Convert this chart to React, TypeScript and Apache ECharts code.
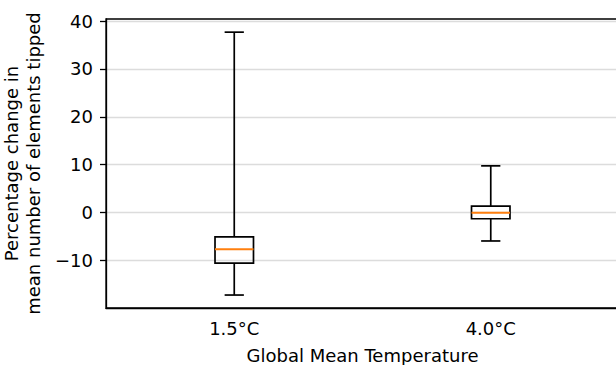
import React, { useEffect, useRef } from "react";
import * as echarts from "echarts";

const categories = ["1.5°C", "4.0°C"];
const lowWhisker = [-17.25, -5.95];
const q1 = [-10.6, -1.3];
const median = [-7.7, -0.05];
const q3 = [-5.1, 1.35];
const highWhisker = [37.7, 9.75];
const yTicks = [-10, 0, 10, 20, 30, 40];

const FONT = "DejaVu Sans";
const FS = 18;

export default function App() {
  const ref = useRef<HTMLDivElement>(null);
  useEffect(() => {
    document.body.style.margin = "0";
    const chart = echarts.init(ref.current!, null, { renderer: "svg" });
    const data = categories.map((_, i) => [
      i,
      lowWhisker[i],
      q1[i],
      median[i],
      q3[i],
      highWhisker[i],
    ]);
    chart.setOption({
      animation: false,
      grid: {
        left: 106,
        top: 19,
        width: 513,
        bottom: 57,
        show: true,
        borderColor: "#000",
        borderWidth: 1.3,
        outerBoundsMode: "none",
        containLabel: false,
      },
      xAxis: {
        type: "category",
        data: categories,
        boundaryGap: true,
        name: "Global Mean Temperature",
        nameLocation: "middle",
        nameGap: 38,
        nameTextStyle: { fontFamily: FONT, fontSize: FS, color: "#000" },
        axisLine: { onZero: false, lineStyle: { color: "#000", width: 1.3 } },
        axisTick: {
          alignWithLabel: true,
          length: 6,
          lineStyle: { color: "#000", width: 1.3 },
        },
        axisLabel: { fontFamily: FONT, fontSize: FS, color: "#000", margin: 11 },
        splitLine: { show: false },
      },
      yAxis: {
        type: "value",
        min: -19.96,
        max: 40.45,
        name: "Percentage change in\nmean number of elements tipped",
        nameLocation: "middle",
        nameRotate: 90,
        nameGap: 50,
        nameTextStyle: {
          fontFamily: FONT,
          fontSize: FS,
          color: "#000",
          lineHeight: 22,
        },
        axisLine: { show: true, lineStyle: { color: "#000", width: 1.3 } },
        axisTick: {
          show: true,
          length: 6,
          customValues: yTicks,
          lineStyle: { color: "#000", width: 1.3 },
        },
        axisLabel: {
          fontFamily: FONT,
          fontSize: FS,
          color: "#000",
          margin: 13,
          customValues: yTicks,
          formatter: (v: number) => String(v).replace("-", "\u2212"),
        },
        splitLine: { show: true, lineStyle: { color: "#dcdcdc", width: 1.4 } },
      },
      series: [
        {
          type: "custom",
          data,
          encode: { x: 0, y: [1, 2, 3, 4, 5] },
          renderItem: (params: any, api: any) => {
            const idx = api.value(0);
            const pLow = api.coord([idx, api.value(1)]);
            const pQ1 = api.coord([idx, api.value(2)]);
            const pMed = api.coord([idx, api.value(3)]);
            const pQ3 = api.coord([idx, api.value(4)]);
            const pHigh = api.coord([idx, api.value(5)]);
            const band = api.size([1, 0])[0];
            const bw = band * 0.15;
            const cw = band * 0.075;
            const x = pMed[0];
            const ls = { stroke: "#000", lineWidth: 1.7, fill: "none" };
            return {
              type: "group",
              children: [
                { type: "line", shape: { x1: x, y1: pQ1[1], x2: x, y2: pLow[1] }, style: ls },
                { type: "line", shape: { x1: x, y1: pQ3[1], x2: x, y2: pHigh[1] }, style: ls },
                { type: "line", shape: { x1: x - cw / 2, y1: pLow[1], x2: x + cw / 2, y2: pLow[1] }, style: ls },
                { type: "line", shape: { x1: x - cw / 2, y1: pHigh[1], x2: x + cw / 2, y2: pHigh[1] }, style: ls },
                {
                  type: "rect",
                  shape: { x: x - bw / 2, y: pQ3[1], width: bw, height: pQ1[1] - pQ3[1] },
                  style: ls,
                },
                {
                  type: "line",
                  shape: { x1: x - bw / 2, y1: pMed[1], x2: x + bw / 2, y2: pMed[1] },
                  style: { stroke: "#ff7f0e", lineWidth: 2 },
                },
              ],
            };
          },
        },
      ],
    });
    return () => chart.dispose();
  }, []);
  return <div ref={ref} style={{ width: 616, height: 365 }} />;
}
